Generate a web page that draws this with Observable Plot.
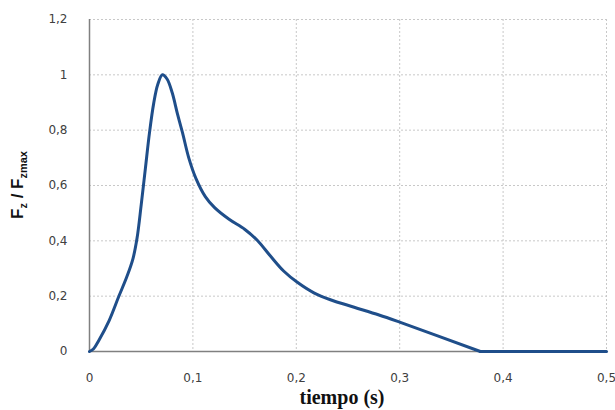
<!DOCTYPE html>
<html>
<head>
<meta charset="utf-8">
<script src="https://cdn.jsdelivr.net/npm/d3@7"></script>
<script src="https://cdn.jsdelivr.net/npm/@observablehq/plot@0.6"></script>
<style>
  html, body { margin: 0; padding: 0; background: #fff; }
</style>
</head>
<body>
<div id="chart"></div>
<script>
// time (s)
const tiempo = [0, 0.004, 0.009, 0.019, 0.028, 0.036, 0.042, 0.046, 0.050, 0.054, 0.058, 0.062, 0.066, 0.0705, 0.075, 0.080, 0.085, 0.090, 0.096, 0.103, 0.112, 0.121, 0.135, 0.150, 0.162, 0.175, 0.188, 0.201, 0.217, 0.233, 0.256, 0.280, 0.300, 0.378, 0.45, 0.50];
// Fz / Fzmax
const fuerza = [0, 0.010, 0.040, 0.112, 0.196, 0.269, 0.335, 0.410, 0.530, 0.660, 0.790, 0.895, 0.965, 1.0, 0.985, 0.935, 0.860, 0.790, 0.700, 0.625, 0.560, 0.520, 0.478, 0.442, 0.403, 0.345, 0.290, 0.250, 0.212, 0.187, 0.160, 0.132, 0.106, 0, 0, 0];
const xTicks = [0, 0.1, 0.2, 0.3, 0.4, 0.5];
const yTicks = [0, 0.2, 0.4, 0.6, 0.8, 1, 1.2];
const xLabel = "tiempo (s)";
const tEnd = 0.378; // force returns to zero

const data = tiempo.map((t, i) => ({t, f: fuerza[i]}));
const fmt = d => String(d).replace(".", ",");

const svg = Plot.plot({
  width: 615,
  height: 410,
  marginLeft: 89,
  marginRight: 9,
  marginTop: 19,
  marginBottom: 59,
  style: {fontFamily: "DejaVu Sans", fontSize: "12px", color: "#404040", background: "#fff"},
  x: {domain: [0, 0.5]},
  y: {domain: [0, 1.2]},
  marks: [
    Plot.gridY(yTicks.filter(d => d > 0), {stroke: "#c8c8c8", strokeOpacity: 1, strokeDasharray: "2,2"}),
    Plot.gridX(xTicks.filter(d => d > 0), {stroke: "#c8c8c8", strokeOpacity: 1, strokeDasharray: "2,2"}),
    Plot.axisY(yTicks, {tickSize: 0, tickPadding: 22, tickFormat: fmt, label: null, fill: "#404040"}),
    Plot.axisX(xTicks, {tickSize: 0, tickPadding: 22, tickFormat: fmt, label: null, fill: "#404040"}),
    Plot.ruleX([0], {stroke: "#808080", strokeWidth: 1.5}),
    Plot.ruleY([0], {stroke: "#808080", strokeWidth: 1.5}),
    Plot.line(data.filter(d => d.t <= tEnd), {x: "t", y: "f", stroke: "#1f4e8a", strokeWidth: 3, curve: "catmull-rom"}),
    Plot.line(data.filter(d => d.t >= tEnd), {x: "t", y: "f", stroke: "#1f4e8a", strokeWidth: 3}),
    Plot.text([xLabel], {frameAnchor: "bottom", dx: -6, dy: 52, fontFamily: "Liberation Serif", fontWeight: "bold", fontSize: 20, fill: "#111", letterSpacing: "2px"})
  ]
});

// y-axis title with subscripts
const yl = d3.select(svg).append("text")
  .attr("transform", "translate(23,185) rotate(-90)")
  .attr("text-anchor", "middle")
  .attr("font-family", "Liberation Sans")
  .attr("font-weight", "bold")
  .attr("font-size", 17)
  .attr("fill", "#111");
yl.append("tspan").text("F");
yl.append("tspan").attr("font-size", 11).attr("dy", 4).text("z");
yl.append("tspan").attr("dy", -4).text(" / F");
yl.append("tspan").attr("font-size", 11).attr("dy", 4).text("zmax");

document.getElementById("chart").appendChild(svg);
</script>
</body>
</html>
